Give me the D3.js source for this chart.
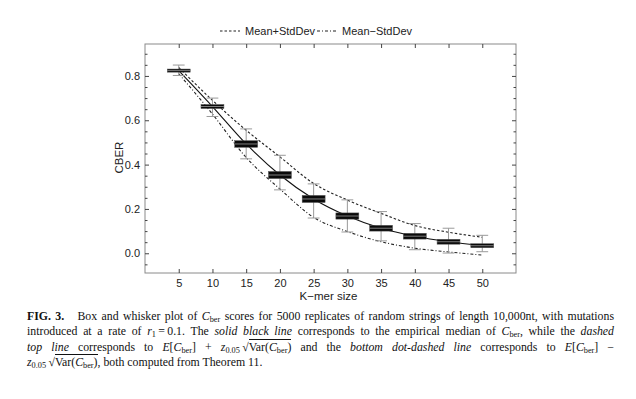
<!DOCTYPE html>
<html>
<head>
<meta charset="utf-8">
<script src="https://cdn.jsdelivr.net/npm/d3@7"></script>
<style>
  body { margin: 0; background: #fff; }
  #wrap { position: relative; width: 636px; height: 399px; }
  #caption {
    position: absolute; left: 27px; top: 309px; width: 587px;
    font-family: "Liberation Serif", "DejaVu Serif", serif; font-size: 11.8px;
    line-height: 15.3px; color: #111;
  }
  #caption .ln { white-space: nowrap; }
  #caption .j { text-align: justify; text-align-last: justify; white-space: normal; }
  #caption sub { font-size: 0.7em; vertical-align: -0.3em; line-height: 0; }
  #caption .ov { border-top: 1px solid #111; padding-top: 0px; }
</style>
</head>
<body>
<div id="wrap">
  <div id="content"></div>
  <div id="caption">
    <div class="ln j"><b>FIG. 3.</b>&nbsp;&nbsp; Box and whisker plot of <i>C</i><sub>ber</sub> scores for 5000 replicates of random strings of length 10,000nt, with mutations</div>
    <div class="ln j">introduced at a rate of <i>r</i><sub>1</sub>&thinsp;=&thinsp;0.1. The <i>solid black line</i> corresponds to the empirical median of <i>C</i><sub>ber</sub>, while the <i>dashed</i></div>
    <div class="ln j"><i>top line</i> corresponds to <i>E</i>[<i>C</i><sub>ber</sub>] + <i>z</i><sub>0.05</sub>&thinsp;√<span class="ov">Var(<i>C</i><sub>ber</sub>)</span> and the <i>bottom dot-dashed line</i> corresponds to <i>E</i>[<i>C</i><sub>ber</sub>] −</div>
    <div class="ln"><i>z</i><sub>0.05</sub>&thinsp;√<span class="ov">Var(<i>C</i><sub>ber</sub>)</span>, both computed from Theorem 11.</div>
  </div>
</div>
<script>
// values
const kmers      = [5, 10, 15, 20, 25, 30, 35, 40, 45, 50]
const medians    = [0.824, 0.662, 0.493, 0.353, 0.245, 0.168, 0.113, 0.077, 0.052, 0.034]
const q3         = [0.831, 0.671, 0.508, 0.369, 0.261, 0.182, 0.126, 0.090, 0.063, 0.043]
const q1         = [0.817, 0.653, 0.478, 0.337, 0.229, 0.154, 0.100, 0.064, 0.041, 0.025]
const whiskerHi  = [0.849, 0.700, 0.561, 0.442, 0.313, 0.241, 0.188, 0.134, 0.113, 0.081]
const whiskerLo  = [0.802, 0.617, 0.426, 0.286, 0.159, 0.096, 0.056, 0.016, 0.001, 0.007]
const meanPlus   = [0.838, 0.690, 0.555, 0.435, 0.315, 0.240, 0.180, 0.125, 0.095, 0.072]
const meanMinus  = [0.810, 0.628, 0.432, 0.290, 0.162, 0.098, 0.052, 0.023, 0.006, -0.008]

const yMajor = [0, 0.2, 0.4, 0.6, 0.8]
const yMinor = [-0.05, 0.05, 0.1, 0.15, 0.25, 0.3, 0.35, 0.45, 0.5, 0.55, 0.65, 0.7, 0.75, 0.85, 0.9]

const margin = {top: 44, right: 120, bottom: 126, left: 145}
const outerWidth = 636
const outerHeight = 399
const width = outerWidth - margin.left - margin.right
const height = outerHeight - margin.top - margin.bottom

const svg = d3.select("#content").append("svg")
    .attr("width", outerWidth)
    .attr("height", outerHeight)
    .style("font-family", "'Liberation Sans', Arial, sans-serif")

const wrapper = svg.append("g")
    .attr("transform", `translate(${margin.left}, ${margin.top})`)

const data = kmers.map((k, i) => ({
    k, med: medians[i], lo: q1[i], hi: q3[i], wlo: whiskerLo[i], whi: whiskerHi[i],
    up: meanPlus[i], dn: meanMinus[i]
}))

// scales
const xScale = d3.scaleLinear().domain([0, 55]).range([0, width])
const yScale = d3.scaleLinear().domain([-0.089, 0.944]).range([height, 0])

// frame
wrapper.append("rect")
    .attr("width", width).attr("height", height)
    .attr("fill", "none").attr("stroke", "#8a8a8a").attr("stroke-width", 1)

// axes, ticks pointing inward
const tickColor = "#444"
function styleAxis(g) {
    g.select(".domain").remove()
    g.selectAll(".tick line").attr("stroke", tickColor)
    g.selectAll(".tick text").attr("fill", "#222").style("font-size", "11px")
}
wrapper.append("g")
    .attr("transform", `translate(0, ${height})`)
    .call(d3.axisBottom(xScale).tickValues(kmers).tickSize(-4).tickPadding(6))
    .call(styleAxis)
wrapper.append("g")
    .call(d3.axisTop(xScale).tickValues(kmers).tickSize(-4).tickFormat(""))
    .call(styleAxis)
wrapper.append("g")
    .call(d3.axisLeft(yScale).tickValues(yMajor).tickSize(-4).tickPadding(5).tickFormat(d3.format(".1f")))
    .call(styleAxis)
wrapper.append("g")
    .call(d3.axisLeft(yScale).tickValues(yMinor).tickSize(-2.5).tickFormat(""))
    .call(styleAxis)
wrapper.append("g")
    .attr("transform", `translate(${width}, 0)`)
    .call(d3.axisRight(yScale).tickValues(yMajor).tickSize(-4).tickFormat(""))
    .call(styleAxis)
wrapper.append("g")
    .attr("transform", `translate(${width}, 0)`)
    .call(d3.axisRight(yScale).tickValues(yMinor).tickSize(-2.5).tickFormat(""))
    .call(styleAxis)

// axis labels
svg.append("text")
    .attr("transform", `translate(${margin.left - 22}, ${margin.top + yScale(0.4) - 7}) rotate(-90)`)
    .attr("text-anchor", "middle")
    .style("font-size", "11.5px").attr("fill", "#222")
    .text("CBER")
svg.append("text")
    .attr("x", margin.left + width / 2 - 2).attr("y", margin.top + height + 27)
    .attr("text-anchor", "middle")
    .style("font-size", "11.5px").attr("fill", "#222")
    .text("K−mer size")

// lines
const lineOf = key => d3.line().x(d => xScale(d.k)).y(d => yScale(d[key])).curve(d3.curveMonotoneX)

wrapper.append("path").datum(data)
    .attr("d", lineOf("up"))
    .attr("fill", "none").attr("stroke", "#222").attr("stroke-width", 1.1)
    .attr("stroke-dasharray", "2.5,2")
wrapper.append("path").datum(data)
    .attr("d", lineOf("dn"))
    .attr("fill", "none").attr("stroke", "#222").attr("stroke-width", 1.1)
    .attr("stroke-dasharray", "3,2,1,2")
wrapper.append("path").datum(data)
    .attr("d", lineOf("med"))
    .attr("fill", "none").attr("stroke", "#111").attr("stroke-width", 1.1)

// box & whisker
const boxW = xScale(3.4) - xScale(0)
const capW = xScale(1.75) - xScale(0)
const box = wrapper.selectAll(".box").data(data).join("g").attr("class", "box")

box.append("line")
    .attr("x1", d => xScale(d.k)).attr("x2", d => xScale(d.k))
    .attr("y1", d => yScale(d.whi)).attr("y2", d => yScale(d.wlo))
    .attr("stroke", "#9a9a9a").attr("stroke-width", 1)
box.selectAll(".cap").data(d => [[d.k, d.whi], [d.k, d.wlo]]).join("line")
    .attr("class", "cap")
    .attr("x1", d => xScale(d[0]) - capW / 2).attr("x2", d => xScale(d[0]) + capW / 2)
    .attr("y1", d => yScale(d[1])).attr("y2", d => yScale(d[1]))
    .attr("stroke", "#9a9a9a").attr("stroke-width", 1)
box.append("rect")
    .attr("x", d => xScale(d.k) - boxW / 2).attr("width", boxW)
    .attr("y", d => yScale(d.hi)).attr("height", d => yScale(d.lo) - yScale(d.hi))
    .attr("fill", "#0a0a0a").attr("stroke", "#555").attr("stroke-width", 0.5)
box.append("line")
    .attr("x1", d => xScale(d.k) - boxW / 2).attr("x2", d => xScale(d.k) + boxW / 2)
    .attr("y1", d => yScale(d.med)).attr("y2", d => yScale(d.med))
    .attr("stroke", "#9a9a9a").attr("stroke-width", 0.8)

// legend
const legendItems = [
    {label: "Mean+StdDev", dash: "2.5,2", x: 220},
    {label: "Mean−StdDev", dash: "3,2,1,2", x: 317}
]
const legend = svg.selectAll(".legend").data(legendItems).join("g")
    .attr("class", "legend")
    .attr("transform", d => `translate(${d.x}, 31)`)
legend.append("line")
    .attr("x1", 0).attr("x2", 20).attr("y1", 0).attr("y2", 0)
    .attr("stroke", "#222").attr("stroke-width", 1.1)
    .attr("stroke-dasharray", d => d.dash)
legend.append("text")
    .attr("x", 25).attr("y", 4)
    .style("font-size", "11px").attr("fill", "#222")
    .text(d => d.label)
</script>
</body>
</html>
